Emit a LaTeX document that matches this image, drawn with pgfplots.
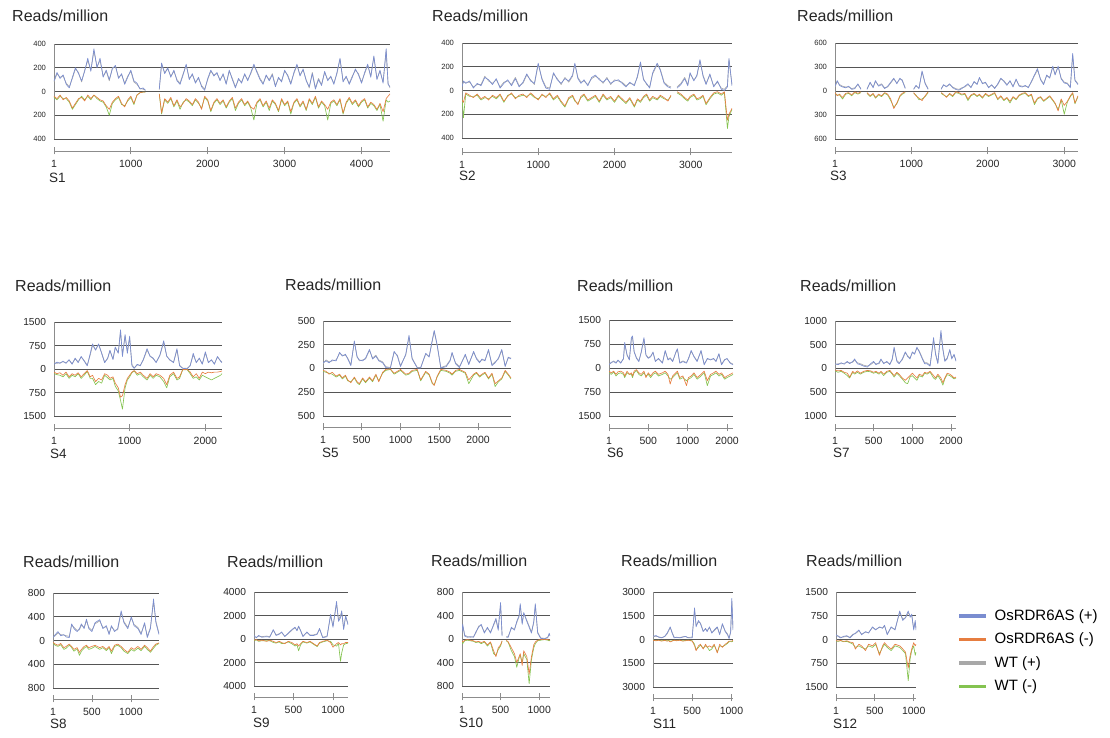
\documentclass[border=0pt]{standalone}
\usepackage{fontspec}
\setmainfont{Liberation Sans}
\usepackage{pgfplots}
\usepackage{pgfplotstable}
\pgfplotsset{compat=1.18}
\definecolor{bluep}{HTML}{7A8DD0}
\definecolor{orangem}{HTML}{E67D40}
\definecolor{grayp}{HTML}{A8A8A8}
\definecolor{greenm}{HTML}{84C350}
\definecolor{gridcol}{HTML}{555555}
\definecolor{axcol}{HTML}{8C8C8C}
\newcommand\ticksize{\fontsize{10.5pt}{12pt}\selectfont}
\newcommand\smalltick{\fontsize{7.6pt}{9pt}\selectfont}
\newcommand\titlesize{\fontsize{16pt}{18pt}\selectfont}
\newcommand\ssize{\fontsize{13.5pt}{15pt}\selectfont}
\newcommand\legsize{\fontsize{15pt}{17pt}\selectfont}

% columns: x, OsRDR6AS(+), WT(+), OsRDR6AS(-), WT(-)
\pgfplotstableread{
x bp wp on wn
1 90 80 -40 -50
40 160 150 -60 -70
80 110 120 -30 -40
120 140 130 -70 -60
160 60 70 -50 -60
200 30 40 -80 -90
240 120 110 -140 -150
280 200 190 -100 -110
320 150 160 -60 -70
360 90 80 -50 -40
400 170 180 -80 -70
440 280 260 -30 -40
480 170 180 -60 -70
520 360 340 -30 -30
560 200 210 -50 -60
600 280 260 -70 -80
640 120 130 -80 -90
680 180 170 -120 -130
720 100 90 -150 -200
760 190 200 -90 -100
800 220 210 -60 -70
840 110 120 -40 -50
880 150 140 -100 -110
920 60 70 -130 -120
960 120 130 -70 -80
1000 180 170 -40 -50
1040 90 80 -100 -110
1080 70 60 -30 -30
1120 20 25 -10 -10
1160 30 20 -5 -5
1190 10 10 -5 -5
1250 nan nan nan nan
1370 20 15 -20 -20
1400 240 230 -180 -190
1440 150 160 -60 -70
1480 200 190 -90 -100
1520 120 130 -50 -60
1560 180 170 -120 -130
1600 90 100 -70 -80
1640 60 70 -130 -150
1680 140 150 -100 -90
1720 230 220 -60 -70
1760 100 110 -80 -90
1800 150 140 -110 -120
1840 70 80 -60 -70
1880 120 110 -90 -100
1920 40 50 -150 -140
1960 10 20 -40 -50
2000 110 100 -70 -80
2040 180 170 -160 -170
2080 130 140 -90 -100
2120 160 150 -60 -70
2160 90 100 -100 -110
2200 150 140 -70 -80
2240 60 70 -130 -140
2280 180 170 -80 -90
2320 100 110 -50 -60
2360 30 40 -140 -160
2400 110 100 -90 -100
2440 70 80 -60 -70
2480 150 140 -110 -120
2520 90 100 -80 -90
2560 160 150 -130 -140
2600 230 220 -150 -240
2640 160 170 -90 -100
2680 100 110 -60 -70
2720 60 70 -120 -130
2760 140 130 -80 -90
2800 90 100 -140 -160
2840 140 150 -70 -80
2880 40 50 -100 -110
2920 120 110 -160 -170
2960 80 90 -60 -70
3000 180 170 -110 -120
3040 130 140 -80 -90
3080 60 70 -170 -190
3120 160 150 -90 -100
3160 230 220 -60 -70
3200 130 140 -120 -130
3240 190 180 -80 -90
3280 90 100 -150 -160
3320 40 30 -60 -70
3360 150 160 -100 -110
3400 20 30 -40 -50
3440 100 110 -130 -140
3480 50 60 -80 -90
3520 170 160 -110 -120
3560 90 100 -150 -240
3600 130 120 -90 -100
3640 60 70 -70 -80
3680 160 150 -110 -120
3720 280 270 -60 -70
3760 80 90 -180 -190
3800 130 120 -90 -100
3840 60 70 -50 -60
3880 120 130 -100 -110
3920 190 180 -70 -80
3960 140 150 -120 -130
4000 70 80 -80 -90
4040 160 150 -60 -70
4080 230 220 -130 -140
4120 120 130 -90 -100
4160 300 290 -110 -120
4200 100 110 -150 -160
4240 180 170 -100 -110
4280 70 80 -170 -250
4320 360 340 -60 -70
4345 60 70 -40 -90
4370 40 30 -20 -80
}\tabA

\pgfplotstableread{
x bp wp on wn
1 30 40 -80 -60
20 80 70 -100 -230
50 60 70 -20 -30
100 80 70 -40 -50
150 20 30 -60 -50
200 60 50 -30 -40
250 40 50 -70 -80
300 110 120 -50 -60
350 90 80 -80 -70
400 50 60 -40 -50
450 100 90 -60 -70
500 20 30 -30 -40
550 60 70 -90 -100
600 90 80 -50 -40
650 40 50 -20 -30
700 100 110 -70 -60
750 30 40 -40 -50
800 70 60 -30 -40
850 140 130 -60 -50
900 80 90 -20 -30
950 60 50 -50 -60
1000 230 220 -80 -70
1050 90 100 -30 -40
1100 20 30 -60 -50
1150 10 20 -20 -30
1200 150 140 -70 -80
1250 90 100 -40 -50
1300 60 50 -90 -100
1350 100 110 -130 -140
1400 80 70 -60 -70
1450 130 120 -40 -50
1480 230 220 -80 -90
1520 100 110 -120 -110
1560 60 70 -50 -60
1600 90 80 -30 -40
1650 40 50 -80 -90
1700 110 100 -60 -70
1750 130 120 -40 -50
1800 90 100 -90 -100
1850 70 60 -30 -40
1900 100 110 -70 -80
1950 60 50 -50 -60
2000 80 90 -90 -100
2050 90 80 -40 -50
2100 60 70 -70 -80
2150 30 40 -100 -110
2200 70 60 -60 -70
2260 40 50 -130 -140
2300 120 110 -70 -80
2340 240 230 -90 -100
2380 90 100 -50 -60
2420 60 50 -30 -40
2460 20 30 -80 -90
2500 150 140 -50 -60
2560 230 220 -70 -80
2600 170 180 -40 -50
2650 60 70 -60 -70
2700 30 40 -90 -80
2740 20 30 -40 -50
2770 nan nan nan nan
2820 20 30 -10 -20
2870 50 60 -30 -40
2920 100 110 -60 -70
2960 40 50 -80 -90
2990 150 140 -50 -60
3040 80 90 -30 -40
3080 130 120 -70 -80
3120 260 250 -60 -70
3160 120 130 -40 -50
3200 50 60 -110 -120
3250 140 130 -60 -70
3300 30 40 -20 -30
3350 80 70 -10 -20
3400 10 20 -30 -40
3440 0 10 -10 -20
3480 30 40 -250 -320
3500 270 260 -200 -220
3540 40 50 -150 -160
}\tabB

\pgfplotstableread{
x bp wp on wn
1 60 50 -20 -30
30 130 120 -60 -50
60 70 80 -40 -50
100 50 60 -80 -100
140 40 50 -30 -40
180 60 50 -20 -30
220 20 30 -50 -60
260 30 40 -10 -20
300 90 80 -30 -40
340 20 30 -10 -20
370 nan nan nan nan
420 20 30 -20 -30
460 110 100 -60 -70
500 40 50 -30 -40
530 130 120 -80 -90
570 60 70 -40 -50
610 80 90 -60 -70
650 30 40 -20 -30
690 60 50 -40 -50
730 110 100 -100 -120
770 160 150 -220 -200
810 90 100 -150 -160
850 160 150 -60 -70
880 130 140 -30 -40
920 30 40 -10 -20
960 nan nan nan nan
1030 20 30 -20 -30
1060 70 60 -60 -50
1100 30 40 -90 -110
1140 250 240 -120 -100
1180 90 100 -60 -70
1220 20 30 -10 -20
1260 nan nan nan nan
1390 20 30 -20 -30
1420 80 70 -40 -50
1460 50 60 -80 -70
1500 90 80 -30 -40
1540 40 50 -60 -70
1580 20 30 -10 -20
1620 10 20 -20 -30
1660 30 40 -40 -50
1700 60 50 -30 -40
1740 90 80 -100 -120
1780 40 50 -50 -60
1820 120 110 -30 -40
1860 80 90 -60 -70
1890 170 160 -40 -50
1930 90 100 -80 -90
1970 110 100 -30 -40
2010 40 50 -60 -70
2050 80 70 -40 -50
2090 30 40 -20 -30
2130 90 80 -100 -110
2170 160 150 -60 -70
2210 120 130 -110 -120
2250 70 80 -80 -90
2290 130 120 -130 -150
2330 50 60 -70 -80
2370 150 140 -100 -110
2410 60 70 -50 -60
2450 50 60 -30 -40
2490 70 60 -20 -30
2530 40 50 -60 -70
2570 120 110 -40 -50
2610 200 190 -150 -170
2650 280 260 -90 -100
2690 140 150 -70 -80
2730 80 90 -120 -130
2770 200 190 -90 -100
2810 160 170 -60 -70
2850 310 300 -110 -120
2880 200 210 -150 -160
2920 310 300 -250 -230
2960 150 160 -100 -110
3000 100 110 -180 -290
3040 90 100 -130 -140
3080 40 50 -60 -70
3110 470 450 -20 -30
3140 130 140 -150 -160
3180 80 90 -60 -70
}\tabC

\pgfplotstableread{
x bp wp on wn
1 150 200 -100 -150
40 220 180 -150 -180
80 180 200 -120 -200
120 250 230 -200 -250
160 180 200 -100 -150
200 300 280 -250 -300
240 150 170 -150 -200
280 350 320 -200 -250
320 200 230 -120 -150
360 400 380 -250 -300
400 250 270 -150 -200
440 100 120 -50 -80
480 500 450 -250 -300
510 800 750 -200 -300
550 600 620 -400 -500
590 800 780 -300 -400
630 500 520 -350 -450
670 200 220 -150 -200
710 350 330 -200 -280
740 600 580 -300 -350
780 300 320 -250 -300
810 700 680 -450 -550
850 500 520 -600 -700
880 1250 1200 -900 -1000
905 400 450 -850 -1280
940 1100 1050 -500 -600
970 500 550 -300 -350
1000 1050 1000 -200 -250
1030 100 150 -100 -120
1060 20 30 -50 -60
1100 150 130 -150 -200
1140 100 120 -100 -150
1180 300 280 -200 -250
1230 650 600 -300 -350
1270 400 420 -150 -200
1310 350 330 -250 -300
1350 200 220 -150 -200
1400 450 430 -200 -250
1450 900 850 -300 -400
1490 400 420 -500 -600
1530 300 280 -200 -250
1580 200 220 -100 -150
1625 650 600 -300 -350
1660 100 120 -250 -300
1700 20 30 -20 -30
1760 10 20 -10 -20
1800 100 120 -100 -150
1840 500 450 -250 -300
1880 200 220 -150 -250
1920 350 330 -300 -350
1960 150 170 -100 -200
2000 550 500 -150 -250
2040 200 220 -100 -300
2080 300 280 -120 -350
2120 150 170 -100 -300
2160 400 380 -100 -250
2200 250 270 -80 -200
2220 200 220 -60 -150
}\tabD

\pgfplotstableread{
x bp wp on wn
1 60 50 -20 -30
40 80 90 -30 -40
80 60 70 -60 -50
120 90 80 -40 -60
170 80 90 -80 -90
215 170 160 -60 -70
250 130 140 -100 -110
290 150 140 -70 -80
320 100 110 -120 -130
360 30 40 -150 -140
405 290 280 -90 -100
440 120 130 -140 -150
470 90 80 -160 -170
512 80 90 -100 -110
550 110 100 -140 -150
600 200 190 -90 -100
640 100 110 -130 -140
683 130 140 -60 -70
720 80 90 -140 -130
770 60 70 -40 -50
810 10 20 -10 -20
870 5 10 -5 -10
918 180 170 -50 -60
960 130 140 -30 -40
1000 20 30 -10 -20
1068 150 140 -60 -70
1110 350 330 -50 -60
1150 100 110 -20 -30
1217 5 10 -10 -20
1260 5 10 -120 -130
1325 160 150 -30 -40
1370 120 130 -60 -70
1410 300 290 -150 -160
1435 400 390 -180 -170
1473 250 240 -80 -90
1520 5 10 -10 -20
1590 20 30 -20 -30
1640 80 90 -40 -50
1665 170 160 -60 -70
1710 50 60 -20 -30
1760 10 20 -10 -20
1836 150 140 -40 -50
1880 40 50 -120 -160
1943 180 170 -60 -70
1980 100 110 -40 -50
2020 60 70 -80 -90
2050 100 90 -60 -70
2090 80 90 -40 -50
2135 200 190 -100 -110
2180 30 40 -50 -60
2220 60 70 -160 -190
2263 110 100 -130 -140
2306 200 190 -100 -110
2350 20 30 -20 -30
2390 120 110 -60 -70
2425 100 110 -100 -110
}\tabE

\pgfplotstableread{
x bp wp on wn
1 100 120 -100 -150
30 180 160 -150 -200
60 200 220 -100 -120
90 150 170 -200 -250
115 250 230 -120 -180
150 150 170 -100 -150
185 300 280 -150 -200
200 800 750 -250 -300
230 400 420 -100 -150
260 250 270 -200 -200
285 950 900 -150 -200
300 1000 950 -250 -300
320 500 520 -100 -150
350 300 320 -50 -80
380 200 220 -150 -200
410 500 480 -200 -250
445 950 900 -100 -150
470 400 420 -300 -250
500 300 320 -150 -200
530 350 370 -250 -300
560 500 480 -150 -200
590 200 220 -100 -150
630 300 280 -200 -250
680 150 170 -150 -200
715 550 520 -100 -150
750 250 270 -200 -250
778 300 320 -500 -350
810 200 220 -250 -300
850 500 480 -150 -200
870 600 580 -100 -150
900 150 170 -300 -350
940 200 220 -250 -300
985 150 170 -550 -400
1010 300 280 -300 -350
1045 550 520 -250 -300
1080 350 370 -150 -200
1120 200 220 -300 -350
1170 550 520 -200 -250
1210 100 120 -100 -150
1250 300 280 -400 -550
1290 250 270 -200 -250
1330 300 280 -150 -200
1360 200 220 -100 -150
1397 450 430 -200 -250
1430 100 120 -150 -200
1470 250 270 -300 -350
1500 300 280 -250 -300
1540 150 170 -200 -250
1576 100 120 -150 -200
}\tabF

\pgfplotstableread{
x bp wp on wn
1 100 80 -30 -50
40 80 100 -50 -80
80 120 100 -40 -60
120 90 110 -80 -100
160 150 130 -100 -150
190 100 120 -180 -200
230 150 130 -60 -80
255 200 180 -100 -120
290 100 120 -50 -80
330 80 100 -100 -120
370 50 70 -60 -80
420 30 50 -40 -60
460 100 80 -50 -70
500 150 130 -80 -100
530 80 100 -60 -80
570 120 100 -100 -120
595 200 180 -60 -80
630 100 120 -120 -150
670 150 130 -60 -80
710 80 100 -40 -60
740 200 180 -100 -120
765 450 420 -150 -180
800 150 170 -80 -100
830 100 120 -120 -150
870 200 180 -200 -220
910 350 330 -250 -300
940 250 270 -200 -320
970 200 220 -150 -180
1000 350 330 -100 -150
1030 300 320 -150 -200
1060 450 430 -200 -250
1090 350 370 -120 -150
1130 200 220 -150 -180
1160 100 120 -80 -100
1190 100 120 -100 -120
1230 50 70 -60 -80
1275 650 600 -150 -200
1300 300 330 -200 -230
1330 100 120 -120 -150
1370 800 750 -200 -250
1395 400 420 -300 -350
1420 150 170 -200 -220
1450 200 220 -100 -130
1485 400 380 -120 -150
1510 200 220 -150 -180
1540 300 280 -200 -220
1565 150 170 -180 -200
}\tabG

\pgfplotstableread{
x bp wp on wn
1 50 60 -30 -50
30 100 80 -60 -80
65 150 130 -80 -100
100 80 100 -50 -70
140 100 90 -120 -150
170 60 80 -100 -130
210 50 70 -60 -80
240 280 260 -100 -120
270 200 220 -150 -180
310 150 170 -120 -140
340 200 180 -200 -250
365 280 260 -150 -180
400 200 220 -100 -130
430 360 330 -80 -100
460 200 220 -120 -150
500 150 170 -100 -130
540 300 280 -80 -100
600 350 330 -120 -150
640 200 220 -100 -120
685 250 230 -150 -170
720 100 120 -100 -120
750 250 230 -180 -220
790 150 170 -80 -100
830 200 180 -60 -80
875 500 470 -100 -120
910 300 320 -150 -180
960 200 220 -200 -220
1005 400 380 -120 -150
1040 250 270 -150 -180
1090 200 220 -100 -130
1130 100 120 -150 -170
1175 300 280 -80 -100
1210 50 70 -120 -150
1250 200 220 -180 -200
1290 700 650 -100 -130
1320 300 330 -60 -80
1360 100 120 -40 -50
}\tabH

\pgfplotstableread{
x bp wp on wn
1 300 200 -100 -150
30 100 150 -50 -80
60 300 250 -150 -200
100 150 200 -100 -150
160 200 250 -200 -150
200 150 200 -100 -150
245 800 750 -200 -300
280 300 350 -300 -350
320 400 450 -200 -250
350 600 550 -300 -400
390 200 250 -400 -350
435 500 450 -200 -250
480 800 750 -300 -400
520 1000 950 -500 -600
545 700 750 -400 -500
565 1100 1050 -600 -1000
590 700 750 -400 -500
620 200 250 -200 -250
670 600 550 -300 -350
710 300 350 -200 -250
755 300 350 -400 -450
800 400 450 -600 -650
830 900 850 -300 -350
870 100 150 -200 -250
925 200 250 -100 -150
970 2100 2000 -300 -200
1000 1000 1100 -700 -500
1045 3200 3000 -400 -600
1070 1500 1600 -300 -400
1095 1800 2000 -500 -1900
1110 2400 2300 -400 -1200
1135 800 900 -400 -500
1160 2000 1900 -300 -400
1190 1200 1300 -300 -350
}\tabI

\pgfplotstableread{
x bp wp on wn
1 100 150 -30 -50
10 250 230 -50 -80
36 50 70 -20 -30
70 30 40 -10 -20
110 40 30 -20 -30
150 30 40 -30 -40
180 120 100 -50 -60
216 200 220 -40 -50
250 250 230 -60 -80
290 100 120 -40 -50
330 200 180 -100 -120
370 100 120 -50 -60
410 250 230 -200 -250
440 350 330 -300 -280
470 150 170 -150 -180
500 620 600 -100 -120
520 50 70 -30 -40
545 nan nan nan nan
575 30 40 -20 -30
600 30 50 -50 -60
640 200 180 -150 -200
680 150 170 -250 -300
710 300 280 -400 -480
740 400 380 -300 -320
755 600 580 -250 -280
780 250 270 -450 -400
800 450 430 -200 -250
840 300 320 -300 -350
870 200 220 -600 -760
900 100 120 -300 -350
930 300 280 -100 -150
950 600 580 -50 -80
980 100 120 -20 -30
1020 10 20 -10 -20
1070 5 10 -5 -10
1110 20 30 -10 -20
1130 100 80 -20 -30
1140 50 60 -10 -20
}\tabJ

\pgfplotstableread{
x bp wp on wn
1 200 180 -50 -30
40 250 200 -80 -60
72 150 170 -50 -40
110 100 120 -100 -80
150 200 180 -60 -50
180 400 350 -100 -80
200 600 550 -80 -60
220 800 750 -150 -100
245 400 450 -100 -80
270 100 150 -50 -40
300 150 120 -80 -60
340 100 120 -50 -40
380 150 170 -100 -80
415 200 180 -80 -60
450 100 120 -50 -40
500 100 150 -100 -80
530 2000 1900 -400 -300
550 800 900 -700 -650
580 1200 1100 -400 -500
605 1000 1050 -300 -350
640 500 550 -600 -550
670 700 650 -300 -400
690 500 550 -500 -450
720 800 750 -400 -700
750 400 450 -500 -600
780 600 550 -300 -350
820 800 750 -850 -800
850 300 350 -300 -400
885 1000 950 -500 -450
920 500 550 -300 -350
950 300 350 -200 -250
970 50 100 -100 -150
990 500 450 -100 -100
1005 2600 2400 -100 -150
1020 600 700 -50 -100
}\tabK

\pgfplotstableread{
x bp wp on wn
1 150 130 -30 -50
25 100 120 -50 -60
60 50 70 -30 -40
100 100 80 -60 -70
140 120 100 -40 -60
180 50 70 -80 -100
220 150 170 -100 -150
250 200 180 -300 -250
295 300 280 -150 -200
330 150 170 -200 -250
380 250 230 -350 -300
420 200 220 -150 -200
470 400 380 -200 -250
510 300 320 -100 -150
560 400 380 -500 -450
600 350 370 -200 -250
625 450 430 -100 -150
660 150 170 -200 -250
710 400 380 -300 -350
760 300 320 -150 -200
820 900 850 -200 -250
860 600 650 -300 -350
895 700 680 -400 -450
930 900 850 -900 -1300
955 700 750 -500 -600
975 800 750 -300 -350
1000 300 350 -100 -200
1020 600 550 -200 -500
1030 300 350 -150 -400
}\tabL

\pgfplotsset{
  panel/.style={
    scale only axis, anchor=south west,
    axis x line=bottom, axis y line=left,
    x axis line style={-, draw=axcol, line width=0.8pt},
    y axis line style={draw=none},
    xtick align=center,
    major tick length=7pt,
    xtick style={draw=axcol, line width=0.8pt},
    ytick style={draw=none},
    ymajorgrids,
    grid style={draw=gridcol, line width=0.9pt},
    unbounded coords=jump,
    tick label style={font=\ticksize, text=black!85},
    xticklabel style={yshift=-2pt},
    /pgf/number format/1000 sep={},
    /pgf/number format/assume math mode=true,
    yticklabel={\pgfmathparse{abs(\tick)}\pgfmathprintnumber{\pgfmathresult}},
    yticklabel style={xshift=-1pt, font=\fontsize{10.2pt}{12pt}\selectfont},
    every axis plot/.append style={line width=0.65pt, mark=none, line join=round},
  },
  rowone/.style={yticklabel style={font=\smalltick}},
}

\newcommand{\fourplots}[2]{%
  \draw[axcol, line width=0.8pt] (axis cs:1,-#2) -- (axis cs:1,#2);
  \addplot[grayp, forget plot] table[x index=0, y index=2] {#1};
  \addplot[bluep, forget plot] table[x index=0, y index=1] {#1};
  \addplot[greenm, forget plot] table[x index=0, y index=4] {#1};
  \addplot[orangem, forget plot] table[x index=0, y index=3] {#1};
}

\begin{document}
\begin{tikzpicture}
\useasboundingbox (0pt,0pt) rectangle (1110pt,738pt);

% Row 1
\begin{axis}[panel, rowone, at={(54pt,587pt)}, width=336pt, height=107pt,
  xmin=1, xmax=4370, ymin=-501, ymax=400,
  ytick={-400,-200,0,200,400}, xtick={1,1000,2000,3000,4000}]
\fourplots{\tabA}{400}
\end{axis}
\begin{axis}[panel, rowone, at={(462pt,586pt)}, width=270pt, height=109pt,
  xmin=1, xmax=3540, ymin=-518, ymax=400,
  ytick={-400,-200,0,200,400}, xtick={1,1000,2000,3000}]
\fourplots{\tabB}{400}
\end{axis}
\begin{axis}[panel, rowone, at={(835pt,587pt)}, width=243pt, height=108pt,
  xmin=1, xmax=3180, ymin=-750, ymax=600,
  ytick={-600,-300,0,300,600}, xtick={1,1000,2000,3000}]
\fourplots{\tabC}{600}
\end{axis}

% Row 2
\begin{axis}[panel, at={(54pt,310pt)}, width=168pt, height=106pt,
  xmin=1, xmax=2220, ymin=-1883, ymax=1500,
  ytick={-1500,-750,0,750,1500}, xtick={1,1000,2000}]
\fourplots{\tabD}{1500}
\end{axis}
\begin{axis}[panel, at={(323pt,311pt)}, width=188pt, height=106pt,
  xmin=1, xmax=2425, ymin=-616, ymax=500,
  ytick={-500,-250,0,250,500}, xtick={1,500,1000,1500,2000}]
\fourplots{\tabE}{500}
\end{axis}
\begin{axis}[panel, at={(609pt,310pt)}, width=124pt, height=108pt,
  xmin=1, xmax=1576, ymin=-1875, ymax=1500,
  ytick={-1500,-750,0,750,1500}, xtick={1,500,1000,1500},
  xticklabels={1,500,1000,2000}]
\fourplots{\tabF}{1500}
\end{axis}
\begin{axis}[panel, at={(835pt,310pt)}, width=121pt, height=107pt,
  xmin=1, xmax=1565, ymin=-1253, ymax=1000,
  ytick={-1000,-500,0,500,1000}, xtick={1,500,1000,1500},
  xticklabels={1,500,1000,2000}]
\fourplots{\tabG}{1000}
\end{axis}

% Row 3
\begin{axis}[panel, at={(53pt,39pt)}, width=106pt, height=106pt,
  xmin=1, xmax=1360, ymin=-985, ymax=800,
  ytick={-800,-400,0,400,800}, xtick={1,500,1000}]
\fourplots{\tabH}{800}
\end{axis}
\begin{axis}[panel, at={(254pt,41pt)}, width=94pt, height=105pt,
  xmin=1, xmax=1190, ymin=-4936, ymax=4000,
  ytick={-4000,-2000,0,2000,4000}, xtick={1,500,1000}]
\fourplots{\tabI}{4000}
\end{axis}
\begin{axis}[panel, at={(462pt,41pt)}, width=88pt, height=105pt,
  xmin=1, xmax=1140, ymin=-987, ymax=800,
  ytick={-800,-400,0,400,800}, xtick={1,500,1000}]
\fourplots{\tabJ}{800}
\end{axis}
\begin{axis}[panel, at={(653pt,40pt)}, width=80pt, height=106pt,
  xmin=1, xmax=1020, ymin=-3695, ymax=3000,
  ytick={-3000,-1500,0,1500,3000}, xtick={1,500,1000}]
\fourplots{\tabK}{3000}
\end{axis}
\begin{axis}[panel, at={(836pt,40pt)}, width=80pt, height=106pt,
  xmin=1, xmax=1030, ymin=-1847, ymax=1500,
  ytick={-1500,-750,0,750,1500}, xtick={1,500,1000},
  legend style={at={(1.53,0.84)}, anchor=north west, draw=none, fill=none,
    font=\legsize, row sep=9.5pt, inner sep=0pt,
    nodes={inner sep=0pt, text height=11pt, text depth=3pt},
    cells={anchor=west}},
  legend image code/.code={\fill[#1, draw=none] (0pt,-1.8pt) rectangle (27pt,1.8pt);},
  legend cell align=left]
\addlegendimage{fill=bluep}
\addlegendimage{fill=orangem}
\addlegendimage{fill=grayp}
\addlegendimage{fill=greenm}
\fourplots{\tabL}{1500}
\legend{\hspace{9pt}OsRDR6AS (+),\hspace{9pt}OsRDR6AS (-),\hspace{9pt}WT (+),\hspace{9pt}WT (-)}
\end{axis}

% Titles
\foreach \px/\py in {12/722, 432/722, 797/722, 15/452, 285/453, 577/452, 800/452, 23/176, 227/176, 431/177, 621/177, 806/177}
  \node[anchor=west, inner sep=0pt, font=\titlesize, text=black!85] at (\px pt,\py pt) {Reads/million};

% Sample labels
\foreach \px/\py/\lab in {49/560/S1, 459/562/S2, 830/562/S3, 50/284/S4, 322/285/S5, 607/285/S6, 833/285/S7, 50/14/S8, 253/15/S9, 459/15/S10, 653/14/S11, 833/14/S12}
  \node[anchor=west, inner sep=0pt, font=\ssize, text=black!85] at (\px pt,\py pt) {\lab};
\end{tikzpicture}
\end{document}
